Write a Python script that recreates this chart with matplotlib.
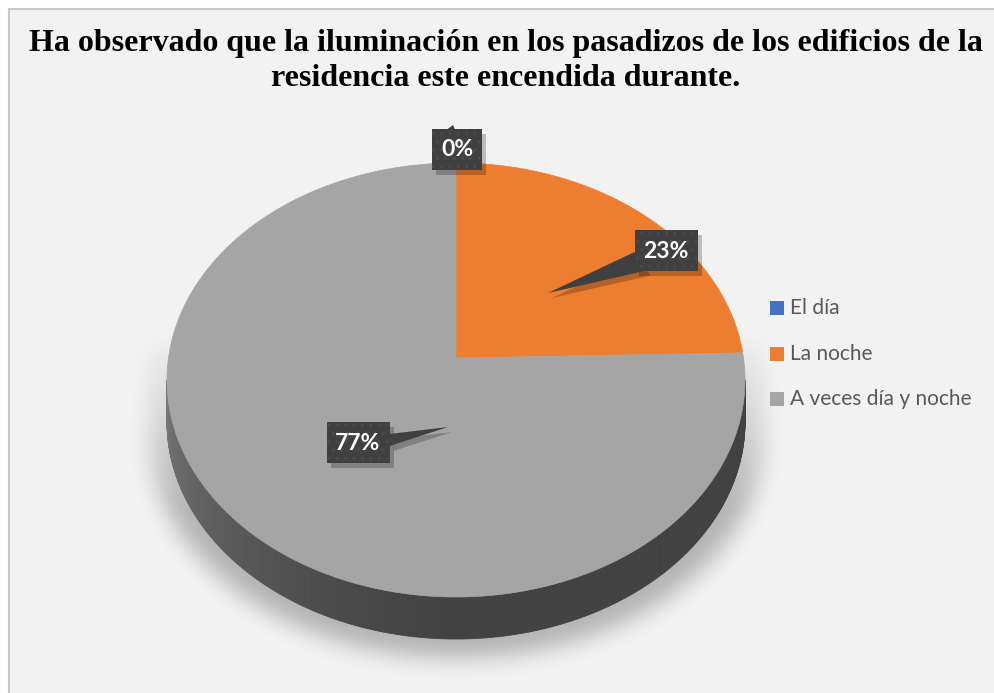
import numpy as np
import matplotlib.pyplot as plt
from matplotlib.patches import Polygon, Rectangle

# chart data
categories = ["El día", "La noche", "A veces día y noche"]
values = [0, 23, 77]
pct_labels = ["0%", "23%", "77%"]
colors = ["#4472C4", "#ED7D31", "#A5A5A5"]
title = ("Ha observado que la iluminación en los pasadizos de los edificios de la\n"
         "residencia este encendida durante.")

# layout (pixel coordinates, y down)
W, H = 995, 693
cx, cy, rx, ry = 456, 380, 289, 217   # top ellipse
apex_y = 358                          # perspective centre of the pie
depth = 42
label_pos = [(457, 149), (666, 250), (358, 442)]
label_size = [(50, 41), (63, 41), (63, 41)]
tip_pos = [(453, 125), (548, 293), (448, 427)]

fig = plt.figure(figsize=(W / 100, H / 100), dpi=100)
fig.patch.set_facecolor("white")
ax = fig.add_axes([0, 0, 1, 1])
ax.set_xlim(0, W)
ax.set_ylim(H, 0)
ax.axis("off")

# chart area
ax.add_patch(Rectangle((8.5, 8.5), W, H, facecolor="#F2F2F2", edgecolor="#C8C8C8", lw=1.5, zorder=0))


def pt(t, dz=0.0):
    r = np.radians(t)
    return cx + rx * np.sin(r), cy - ry * np.cos(r) + dz


# soft shadow under the pie
yy, xx = np.mgrid[0:H, 0:W].astype(float)
Rx, Ry = rx * 1.06, ry * 1.02
u = np.clip((xx - cx) / Rx, -1, 1)
inside_x = np.abs(xx - cx) <= Rx
half = Ry * np.sqrt(1 - u ** 2)
top_c, bot_c = cy - 40, cy + depth + 14
mask = (inside_x & (yy >= top_c - half) & (yy <= bot_c + half)).astype(float)
sig = 11
k = np.arange(-3 * sig, 3 * sig + 1)
kern = np.exp(-k ** 2 / (2 * sig ** 2))
kern /= kern.sum()
blur = np.zeros_like(mask)
for i, w in zip(k, kern):
    blur += w * np.roll(mask, i, axis=0)
mask = blur
blur = np.zeros_like(mask)
for i, w in zip(k, kern):
    blur += w * np.roll(mask, i, axis=1)
fade = np.clip((yy - 330) / 180, 0, 1)
rgba = np.zeros((H, W, 4))
rgba[..., 3] = 0.26 * blur * fade
ax.imshow(rgba, extent=(0, W, H, 0), zorder=1, interpolation="bilinear")

# wedge angles, clockwise from top
fracs = np.array(values, dtype=float) / sum(values)
edges = np.concatenate([[0], np.cumsum(fracs) * 360])


def side_shade(t):
    if t <= 180:
        return 0.40
    return 0.40 + 0.32 * ((t - 180) / 90) ** 1.4


# side of the cylinder (visible half: 90..270 degrees)
for i, (a, b) in enumerate(zip(edges[:-1], edges[1:])):
    lo, hi = max(a, 90), min(b, 270)
    if hi <= lo:
        continue
    base = np.array(plt.matplotlib.colors.to_rgb(colors[i]))
    ts = np.arange(lo, hi + 0.5, 0.5)
    for t0, t1 in zip(ts[:-1], ts[1:]):
        p0, p1 = pt(t0), pt(t1)
        q1, q0 = pt(t1, depth), pt(t0, depth)
        c = np.clip(base * side_shade((t0 + t1) / 2), 0, 1)
        ax.add_patch(Polygon([p0, p1, q1, q0], closed=True, facecolor=c,
                             edgecolor=c, lw=0.6, zorder=2))

# top surface wedges
for i, (a, b) in enumerate(zip(edges[:-1], edges[1:])):
    if b - a <= 0:
        continue
    ts = np.linspace(a, b, max(int((b - a) * 2), 2))
    poly = [(cx, apex_y)] + [pt(t) for t in ts]
    ax.add_patch(Polygon(poly, closed=True, facecolor=colors[i], edgecolor=colors[i],
                         lw=0.5, zorder=3))

# data labels with callouts
for lab, (lx, ly), (bw, bh), (tx, ty) in zip(pct_labels, label_pos, label_size, tip_pos):
    x0, y0 = lx - bw / 2, ly - bh / 2
    # base of the pointer on the box edge nearest to the tip
    if tx > x0 + bw:
        base = [(x0 + bw, ly - 8), (x0 + bw, ly + 4)]
    elif ty < y0:
        base = [(tx - 6, y0 + 1), (tx + 2, y0 + 1)]
    else:
        base = [(x0, ly + 2), (x0 + 12, y0 + bh)]
    for off, col, z in [((4, 5), (0, 0, 0, 0.22), 4), ((0, 0), "#404040", 5)]:
        ax.add_patch(Rectangle((x0 + off[0], y0 + off[1]), bw, bh, facecolor=col,
                               edgecolor="none", zorder=z))
        ax.add_patch(Polygon([(base[0][0] + off[0], base[0][1] + off[1]),
                              (tx + off[0], ty + off[1]),
                              (base[1][0] + off[0], base[1][1] + off[1])],
                             closed=True, facecolor=col, edgecolor="none", zorder=z))
    ax.add_patch(Rectangle((x0, y0), bw, bh, facecolor="none", edgecolor="#4b4b4b",
                           hatch="..", lw=0, zorder=5.5))
    ax.text(lx, ly + 1, lab, ha="center", va="center", color="white", fontsize=16.5,
            fontweight="bold", family="Lato", zorder=6)

# legend
leg_y = [308, 354, 399]
for name, col, y in zip(categories, colors, leg_y):
    ax.add_patch(Rectangle((770, y - 7), 14, 14, facecolor=col, edgecolor="none", zorder=5))
    ax.text(790, y, name, ha="left", va="center", color="#595959", fontsize=15,
            family="Lato", zorder=5)

# title
ax.text(506, 29, title, ha="center", va="top", fontsize=23.0, fontweight="bold",
        family="Liberation Serif", linespacing=1.25, zorder=6)

fig.savefig("out.png", dpi=100, facecolor=fig.get_facecolor())
